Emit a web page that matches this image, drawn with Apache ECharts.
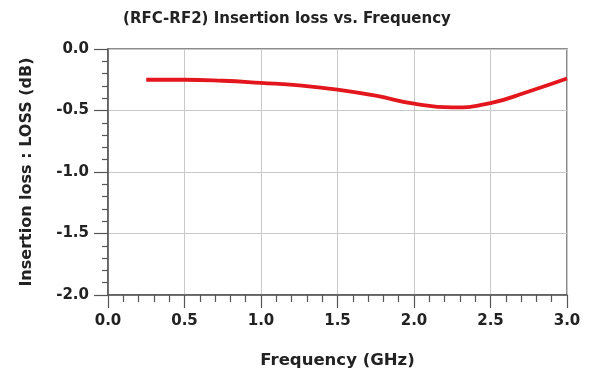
<!DOCTYPE html>
<html>
<head>
<meta charset="utf-8">
<script src="https://cdn.jsdelivr.net/npm/echarts@6/dist/echarts.min.js"></script>
<style>html,body{margin:0;padding:0;background:#fff;}#c{width:593px;height:376px;}</style>
</head>
<body>
<div id="c"></div>
<script>
const titleText = '(RFC-RF2) Insertion loss vs. Frequency';
const xName = 'Frequency (GHz)';
const yName = 'Insertion loss : LOSS (dB)';
const freq = [0.25, 0.5, 0.75, 1.0, 1.25, 1.5, 1.75, 2.0, 2.25, 2.5, 2.75, 3.0];
const loss = [-0.25, -0.25, -0.258, -0.275, -0.295, -0.33, -0.38, -0.445, -0.475, -0.44, -0.345, -0.24];

const chart = echarts.init(document.getElementById('c'), null, {renderer: 'canvas'});
const font = 'DejaVu Sans, Liberation Sans, sans-serif';
const axisColor = '#555';
chart.setOption({
  animation: false,
  backgroundColor: '#fff',
  title: {
    text: titleText, left: 282, top: 7, textAlign: 'center',
    textStyle: {fontFamily: font, fontWeight: 'bold', fontSize: 15, color: '#222'}
  },
  grid: {left: 108, right: 26, top: 49, bottom: 81, show: true, borderColor: '#666', borderWidth: 1.5, backgroundColor: 'transparent'},
  xAxis: {
    type: 'value', min: 0, max: 3, interval: 0.5,
    name: xName, nameLocation: 'middle', nameGap: 57,
    nameTextStyle: {fontFamily: font, fontWeight: 'bold', fontSize: 16.5, color: '#222'},
    axisLine: {show: true, onZero: false, lineStyle: {color: axisColor, width: 1.5}},
    axisTick: {show: true, inside: false, length: 13, lineStyle: {color: axisColor, width: 1.2}},
    minorTick: {show: true, splitNumber: 5, length: 7, lineStyle: {color: axisColor, width: 1.2}},
    axisLabel: {margin: 19, fontFamily: font, fontWeight: 'bold', fontSize: 15, color: '#222', formatter: v => v.toFixed(1)},
    splitLine: {show: true, lineStyle: {color: '#c8c8c8', width: 1}}
  },
  yAxis: {
    type: 'value', min: -2, max: 0, interval: 0.5,
    name: yName, nameLocation: 'middle', nameGap: 73, nameRotate: 90,
    nameTextStyle: {fontFamily: font, fontWeight: 'bold', fontSize: 16, color: '#222'},
    axisLine: {show: true, onZero: false, lineStyle: {color: axisColor, width: 1.5}},
    axisTick: {show: true, inside: false, length: 14, lineStyle: {color: axisColor, width: 1.2}},
    minorTick: {show: true, splitNumber: 5, length: 6, lineStyle: {color: axisColor, width: 1.2}},
    axisLabel: {margin: 19, fontFamily: font, fontWeight: 'bold', fontSize: 15, color: '#222', formatter: v => (v === 0 ? '0.0' : v.toFixed(1))},
    splitLine: {show: true, lineStyle: {color: '#c8c8c8', width: 1}}
  },
  series: [{
    type: 'line', data: freq.map((f, i) => [f, loss[i]]),
    smooth: true, showSymbol: false, symbol: 'none',
    lineStyle: {color: '#e3161e', width: 3.8}
  }]
});
</script>
</body>
</html>
